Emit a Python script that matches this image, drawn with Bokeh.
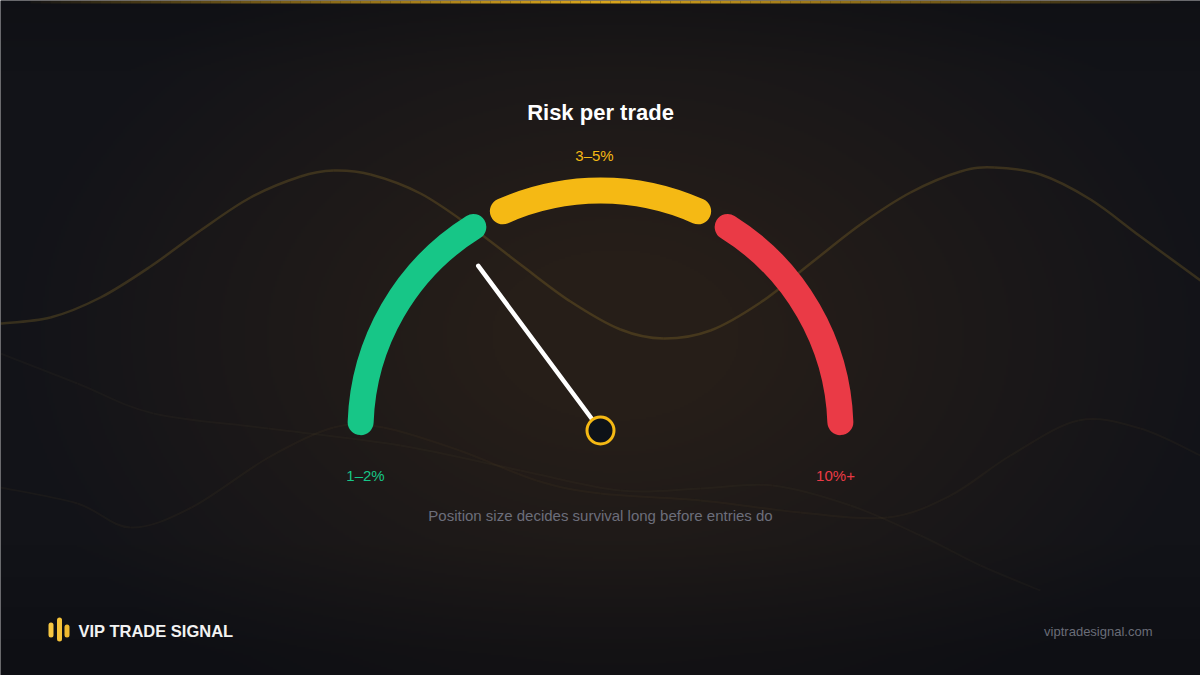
import numpy as np
from bokeh.plotting import figure
from bokeh.models import Range1d
from bokeh.core.properties import value
from bokeh.embed import file_html
from bokeh.resources import INLINE

# ---------------- data ----------------
title_text = "Risk per trade"
subtitle_text = "Position size decides survival long before entries do"
brand_text = "VIP TRADE SIGNAL"
site_text = "viptradesignal.com"

zone_labels = ["1–2%", "3–5%", "10%+"]
zone_start = [0.0, 1.0, 2.0]      # dial scale: 0 = left end, 3 = right end
zone_end = [1.0, 2.0, 3.0]
needle_value = 0.89

# decorative background waves (image px, y down)
wave_x = [0, 50, 100, 150, 200, 250, 300, 333, 370, 420, 470, 520, 570, 620, 663,
          710, 760, 810, 860, 910, 960, 994, 1040, 1090, 1140, 1200]
wave_y = [323, 317, 297, 266, 230, 197, 176, 170, 174, 193, 226, 264, 301, 329, 338,
          330, 302, 263, 224, 192, 171, 167, 174, 199, 236, 280]
wave2_x = [0, 77, 130, 191, 268, 333, 383, 459, 536, 600, 700, 800, 887, 950, 1010, 1078, 1140, 1200]
wave2_y = [487, 503, 527, 507, 457, 427, 427, 450, 480, 493, 500, 512, 517, 495, 455, 420, 428, 455]
wave3_x = [0, 77, 153, 268, 400, 520, 620, 700, 772, 850, 920, 980, 1040]
wave3_y = [353, 383, 413, 428, 445, 470, 490, 488, 485, 505, 535, 565, 590]

# ---------------- layout / style ----------------
IMG_W, IMG_H = 1200, 675
FONT = "Liberation Sans"
zone_colors = ["#17c687", "#f5b914", "#ea3a46"]
zone_pads = [(2, 2), (6, 6), (2, 2)]   # degrees trimmed at each end
CX, CY_IMG = 600, 430
R = 240
BAND_W = 26


def Y(y_img):
    return IMG_H - np.asarray(y_img, dtype=float)


def dial_angle(v):
    return 180.0 - v * 60.0


p = figure(width=IMG_W, height=IMG_H, output_backend="svg", toolbar_location=None,
           x_range=Range1d(0, IMG_W), y_range=Range1d(0, IMG_H), min_border=0)
p.axis.visible = False
p.grid.visible = False
p.outline_line_color = None
p.background_fill_color = "#121318"
p.border_fill_color = "#121318"

# background: dark base with warm radial glow (rendered as a smooth RGBA image)
BW, BH = 600, 338
cols = (np.arange(BW) + 0.5) * IMG_W / BW
rows_img_y = IMG_H - (np.arange(BH) + 0.5) * IMG_H / BH     # row 0 = bottom
XX, YY = np.meshgrid(cols, rows_img_y)
d = np.sqrt(((XX - 615) / 620.0) ** 2 + ((YY - 335) / 430.0) ** 2)
g = np.clip(1.0 - d, 0, 1) ** 1.0
base = np.array([18, 19, 24], float)
warm = np.array([38, 30, 24], float)
rgb = base[None, None, :] + (warm - base)[None, None, :] * np.clip(g * 1.25, 0, 1)[..., None]
foot = np.clip((YY - 545) / 110.0, 0, 1)
rgb = rgb * (1 - 0.22 * foot[..., None]) + np.array([2, 3, 8])[None, None, :] * 0.22 * foot[..., None]
top = np.clip((70 - YY) / 70.0, 0, 1)
rgb = rgb * (1 - 0.12 * top[..., None])
rgba = np.empty((BH, BW, 4), dtype=np.uint8)
rgba[..., :3] = np.clip(rgb, 0, 255).astype(np.uint8)
rgba[..., 3] = 255
p.image_rgba(image=[rgba.view(dtype=np.uint32).reshape(BH, BW)], x=0, y=0, dw=IMG_W, dh=IMG_H)


def smooth_curve(xs, ys, **kw):
    xs = np.asarray(xs, float)
    ys = Y(ys)
    n = len(xs)
    x0s, y0s, x1s, y1s, cx0, cy0, cx1, cy1 = [], [], [], [], [], [], [], []
    for i in range(n - 1):
        a, b = max(i - 1, 0), min(i + 2, n - 1)
        x0s.append(xs[i]); y0s.append(ys[i]); x1s.append(xs[i + 1]); y1s.append(ys[i + 1])
        cx0.append(xs[i] + (xs[i + 1] - xs[a]) / 6); cy0.append(ys[i] + (ys[i + 1] - ys[a]) / 6)
        cx1.append(xs[i + 1] - (xs[b] - xs[i]) / 6); cy1.append(ys[i + 1] - (ys[b] - ys[i]) / 6)
    p.bezier(x0=x0s, y0=y0s, x1=x1s, y1=y1s, cx0=cx0, cy0=cy0, cx1=cx1, cy1=cy1, **kw)


smooth_curve(wave3_x, wave3_y, line_color="#c9a24a", line_alpha=0.035, line_width=2)
smooth_curve(wave2_x, wave2_y, line_color="#c9a24a", line_alpha=0.045, line_width=2)
smooth_curve(wave_x, wave_y, line_color="#c9a233", line_alpha=0.2, line_width=2.5)

# top gold accent line
gx = np.linspace(30, 1170, 115)
for i in range(len(gx) - 1):
    xm = 0.5 * (gx[i] + gx[i + 1])
    a = max(0.0, 1.0 - abs(xm - 600) / 575.0) ** 0.8
    p.quad(left=gx[i], right=gx[i + 1], bottom=float(Y(3)), top=IMG_H,
           fill_color="#dba61c", fill_alpha=a, line_color=None)

# gauge bands
cy = float(Y(CY_IMG))
for zs, ze, col, (pa, pb) in zip(zone_start, zone_end, zone_colors, zone_pads):
    a_hi = dial_angle(zs) - pa
    a_lo = dial_angle(ze) + pb
    p.arc(x=CX, y=cy, radius=R, start_angle=a_lo, end_angle=a_hi,
          start_angle_units="deg", end_angle_units="deg", direction="anticlock",
          line_color=col, line_width=BAND_W, line_cap="round")

# needle
na = np.deg2rad(dial_angle(needle_value))
NL = 205
p.segment(x0=CX, y0=cy, x1=CX + NL * np.cos(na), y1=cy + NL * np.sin(na),
          line_color="#ffffff", line_width=4.5, line_cap="round")
p.circle(x=CX, y=cy, radius=13.5, fill_color="#0e1218", line_color="#f5b914", line_width=3)

# zone labels (visual centres)
label_pos = [(365, 475), (594, 155), (835, 475)]
for lab, col, (lx, ly) in zip(zone_labels, zone_colors, label_pos):
    p.text(x=[lx], y=[float(Y(ly))], text=[lab], text_color=col, text_font=value(FONT),
           text_font_size="15px", text_align="center", text_baseline="middle")

# title / subtitle
p.text(x=[600], y=[float(Y(112))], text=[title_text], text_color="#ffffff",
       text_font=value(FONT), text_font_style="bold", text_font_size="22px",
       text_align="center", text_baseline="middle")
p.text(x=[600], y=[float(Y(515))], text=[subtitle_text], text_color="#6c6e7b",
       text_font=value(FONT), text_font_size="15px",
       text_align="center", text_baseline="middle")

# footer brand
logo_bars = [(50.5, 622, 637, "#f7c743"), (59, 617, 641, "#f5c23a"), (66.5, 624, 637, "#f0b92f")]
for bx, t, b, col in logo_bars:
    p.segment(x0=bx, y0=float(Y(t + 2.5)), x1=bx, y1=float(Y(b - 2.5)),
              line_color=col, line_width=5, line_cap="round")
p.text(x=[78], y=[float(Y(630))], text=[brand_text], text_color="#f2f2f2",
       text_font=value(FONT), text_font_style="bold", text_font_size="16.5px",
       text_align="left", text_baseline="middle")
p.text(x=[1152], y=[float(Y(631))], text=[site_text], text_color="#6a6d78",
       text_font=value(FONT), text_font_size="13px",
       text_align="right", text_baseline="middle")

open("out.html", "w").write(file_html(p, INLINE, title="Risk per trade"))
